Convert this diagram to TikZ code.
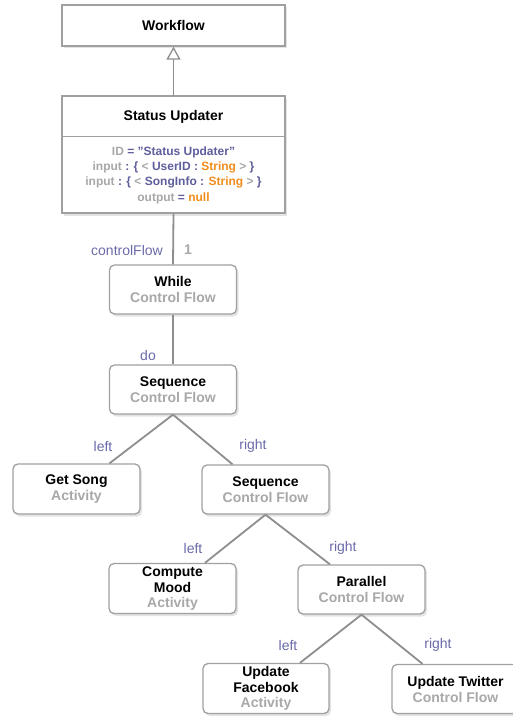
\documentclass[tikz,border=0pt]{standalone}
\usepackage{fontspec}
\setmainfont{Liberation Sans}
\usetikzlibrary{arrows.meta,shadows}
\definecolor{boxline}{HTML}{A0A0A0}
\definecolor{edgeline}{HTML}{8E8E8E}
\definecolor{lblc}{HTML}{6A6AAA}
\definecolor{gtxt}{HTML}{A8A8A8}
\definecolor{ptxt}{HTML}{5E5E9C}
\definecolor{otxt}{HTML}{F28C1B}
\tikzset{
  shd/.style={drop shadow={opacity=0.22,shadow xshift=2pt,shadow yshift=-2.5pt}},
  umlbox/.style={draw=boxline,line width=1.3pt,fill=white,minimum width=223pt,inner sep=0pt,align=center},
  flowbox/.style={draw=boxline,line width=1.3pt,fill=white,rounded corners=5pt,minimum width=127pt,minimum height=49pt,inner sep=0pt,align=center,shd,font=\fontsize{14}{16.5}\selectfont\bfseries},
  edge/.style={draw=edgeline,line width=1.8pt},
  lbl/.style={text=lblc,font=\fontsize{14}{16}\selectfont,inner sep=0pt}
}
\newcommand{\sub}[1]{\\[-0.5pt]{\color{gtxt}#1}}
\begin{document}
\begin{tikzpicture}[x=1pt,y=-1pt]
\useasboundingbox (0,0) rectangle (512,717);
% UML boxes
\node[umlbox,minimum height=41pt,shd,font=\fontsize{14}{16}\selectfont\bfseries] (wf) at (173.5,25.5) {Workflow};
\node[umlbox,minimum height=117pt,shd] (subox) at (173.5,154.5) {};
\node[umlbox,minimum height=40pt,font=\fontsize{14}{16}\selectfont\bfseries] (sut) at (173.5,116.5) {Status Updater};
\node[inner sep=0pt,align=center,font=\fontsize{12}{15.3}\selectfont\bfseries] (sua) at (173.5,175)
 {{\color{gtxt}ID} {\color{ptxt}= "Status Updater"}\\
  {\color{gtxt}input} {\color{ptxt}: \{} {\color{gtxt}<} {\color{ptxt}UserID :} {\color{otxt}String} {\color{gtxt}>} {\color{ptxt}\}}\\
  {\color{gtxt}input} {\color{ptxt}: \{} {\color{gtxt}<} {\color{ptxt}SongInfo :} {\color{otxt}String} {\color{gtxt}>} {\color{ptxt}\}}\\
  {\color{gtxt}output} {\color{ptxt}=} {\color{otxt}null}};
% inheritance
\draw[edge,line width=1.3pt,-{Triangle[open,length=13pt,width=14pt,fill=white]}] (sut.north) -- (wf.south);
% flow boxes
\node[flowbox] (wh) at (173,289.5) {While\sub{Control Flow}};
\node[flowbox] (sq1) at (173,389.5) {Sequence\sub{Control Flow}};
\node[flowbox,minimum height=50pt] (gs) at (76.5,489) {Get Song\sub{Activity}};
\node[flowbox] (sq2) at (265.5,489.5) {Sequence\sub{Control Flow}};
\node[flowbox,minimum height=50pt,font=\fontsize{14}{15.7}\selectfont\bfseries] (cm) at (172.5,588.5) {Compute\\Mood\sub{Activity}};
\node[flowbox] (pa) at (361.5,589.5) {Parallel\sub{Control Flow}};
\node[flowbox,minimum height=50pt,minimum width=126pt,font=\fontsize{14}{15.7}\selectfont\bfseries] (fb) at (266,688.5) {Update\\Facebook\sub{Activity}};
\node[flowbox] (tw) at (455.5,689) {Update Twitter\sub{Control Flow}};
% edges
\path[edge] (subox.south) -- (wh.north);
\path[edge] (wh.south) -- (sq1.north);
\path[edge] (sq1.south) -- ([xshift=33pt]gs.north);
\path[edge] (sq1.south) -- ([xshift=-33pt]sq2.north);
\path[edge] (sq2.south) -- ([xshift=32.5pt]cm.north);
\path[edge] (sq2.south) -- ([xshift=-31.5pt]pa.north);
\path[edge] (pa.south) -- ([xshift=34pt]fb.north);
\path[edge] (pa.south) -- ([xshift=-33pt]tw.north);
% labels
\node[lbl] (l1) at (127,250) {controlFlow};
\node[lbl,text=gtxt,font=\fontsize{14}{16}\selectfont\bfseries] (l2) at (188,250) {1};
\node[lbl] (l3) at (148,355) {do};
\node[lbl] (l4) at (103,446) {left};
\node[lbl] (l5) at (253,446) {right};
\node[lbl] (l6) at (193,548) {left};
\node[lbl] (l7) at (343,548) {right};
\node[lbl] (l8) at (288,645) {left};
\node[lbl] (l9) at (438,645) {right};
\end{tikzpicture}
\end{document}
